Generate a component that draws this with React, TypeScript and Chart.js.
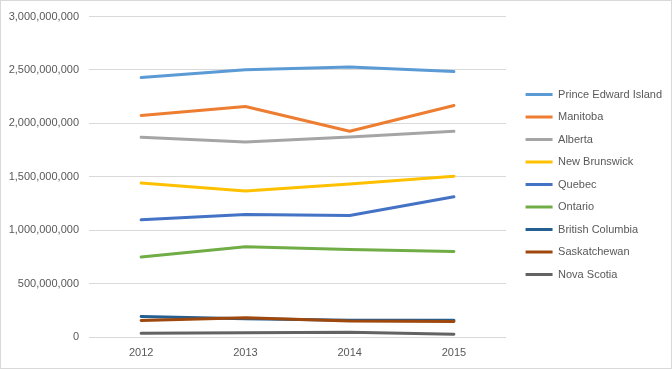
import React, { useEffect, useRef } from "react";
import { Chart, registerables } from "chart.js";

Chart.register(...registerables);

const years = ["2012", "2013", "2014", "2015"];
const seriesNames = [
  "Prince Edward Island",
  "Manitoba",
  "Alberta",
  "New Brunswick",
  "Quebec",
  "Ontario",
  "British Columbia",
  "Saskatchewan",
  "Nova Scotia",
];
const princeEdwardIsland = [2429000000, 2503000000, 2528000000, 2485000000];
const manitoba = [2075000000, 2159000000, 1926000000, 2168000000];
const alberta = [1870000000, 1826000000, 1873000000, 1926000000];
const newBrunswick = [1441000000, 1367000000, 1432000000, 1506000000];
const quebec = [1097000000, 1146000000, 1137000000, 1314000000];
const ontario = [748000000, 845000000, 820000000, 800000000];
const britishColumbia = [193000000, 170000000, 158000000, 158000000];
const saskatchewan = [155000000, 180000000, 149000000, 146000000];
const novaScotia = [34000000, 40000000, 44000000, 25000000];
const seriesColors = [
  "#5B9BD5",
  "#ED7D31",
  "#A5A5A5",
  "#FFC000",
  "#4472C4",
  "#70AD47",
  "#255E91",
  "#9E480E",
  "#636363",
];
const yTickMax = 3000000000;
const yTickStep = 500000000;

const FONT = "'Liberation Sans', Arial, sans-serif";
const TEXT = "#595959";
const GRID = "#D9D9D9";

export default function App() {
  const ref = useRef<HTMLCanvasElement>(null);

  useEffect(() => {
    document.body.style.margin = "0";
    const canvas = ref.current;
    if (!canvas) return;
    const allSeries = [
      princeEdwardIsland,
      manitoba,
      alberta,
      newBrunswick,
      quebec,
      ontario,
      britishColumbia,
      saskatchewan,
      novaScotia,
    ];
    const datasets = allSeries.map((d, i) => ({
      label: seriesNames[i],
      data: d,
      borderColor: seriesColors[i],
      backgroundColor: seriesColors[i],
      borderWidth: 3,
      pointRadius: 0,
      pointHoverRadius: 0,
      tension: 0,
      fill: false,
      borderCapStyle: "round" as const,
      borderJoinStyle: "round" as const,
      order: allSeries.length - i,
      xAxisID: "x",
      yAxisID: "y",
    }));

    const frame = {
      id: "frame",
      beforeDraw(chart: any) {
        const ctx = chart.ctx;
        ctx.save();
        ctx.fillStyle = "#FFFFFF";
        ctx.fillRect(0, 0, chart.width, chart.height);
        ctx.restore();
      },
      afterDraw(chart: any) {
        const ctx = chart.ctx;
        ctx.save();
        ctx.strokeStyle = GRID;
        ctx.lineWidth = 1;
        ctx.strokeRect(0.5, 0.5, chart.width - 1, chart.height - 1);
        ctx.restore();
      },
    };

    const chart = new Chart(canvas, {
      type: "line",
      data: { labels: years, datasets },
      options: {
        responsive: false,
        animation: false,
        devicePixelRatio: 1,
        layout: { padding: { top: 0, left: 0, right: 0, bottom: 0 } },
        plugins: {
          tooltip: { enabled: false },
          title: { display: false },
          legend: {
            display: true,
            position: "right",
            align: "center",
            labels: {
              usePointStyle: true,
              pointStyle: "line",
              pointStyleWidth: 27,
              padding: 11.5,
              color: TEXT,
              font: { family: FONT, size: 11 },
              sort: (a: any, b: any) => a.datasetIndex - b.datasetIndex,
            },
          },
        },
        scales: {
          x: {
            type: "category",
            offset: true,
            grid: { display: false, drawTicks: false },
            border: { display: false },
            ticks: { color: TEXT, font: { family: FONT, size: 11 }, padding: 9 },
            afterFit: (s: any) => {
              s.height = 32;
            },
          },
          y: {
            type: "linear",
            min: 0,
            max: yTickMax,
            grid: { color: GRID, lineWidth: 1, drawTicks: false },
            border: { display: false },
            ticks: {
              stepSize: yTickStep,
              color: TEXT,
              font: { family: FONT, size: 11 },
              padding: 10,
              callback: (v: any) => Number(v).toLocaleString("en-US"),
            },
            afterFit: (s: any) => {
              s.width = 89;
            },
          },
          xTop: {
            type: "linear",
            position: "top",
            display: false,
            afterFit: (s: any) => {
              s.height = 14;
            },
          },
          yRight: {
            type: "linear",
            position: "right",
            display: false,
            afterFit: (s: any) => {
              s.width = 8;
            },
          },
        },
      } as any,
      plugins: [frame],
    });
    return () => chart.destroy();
  }, []);

  return (
    <div style={{ width: 672, height: 369 }}>
      <canvas ref={ref} width={672} height={369} style={{ display: "block" }} />
    </div>
  );
}
